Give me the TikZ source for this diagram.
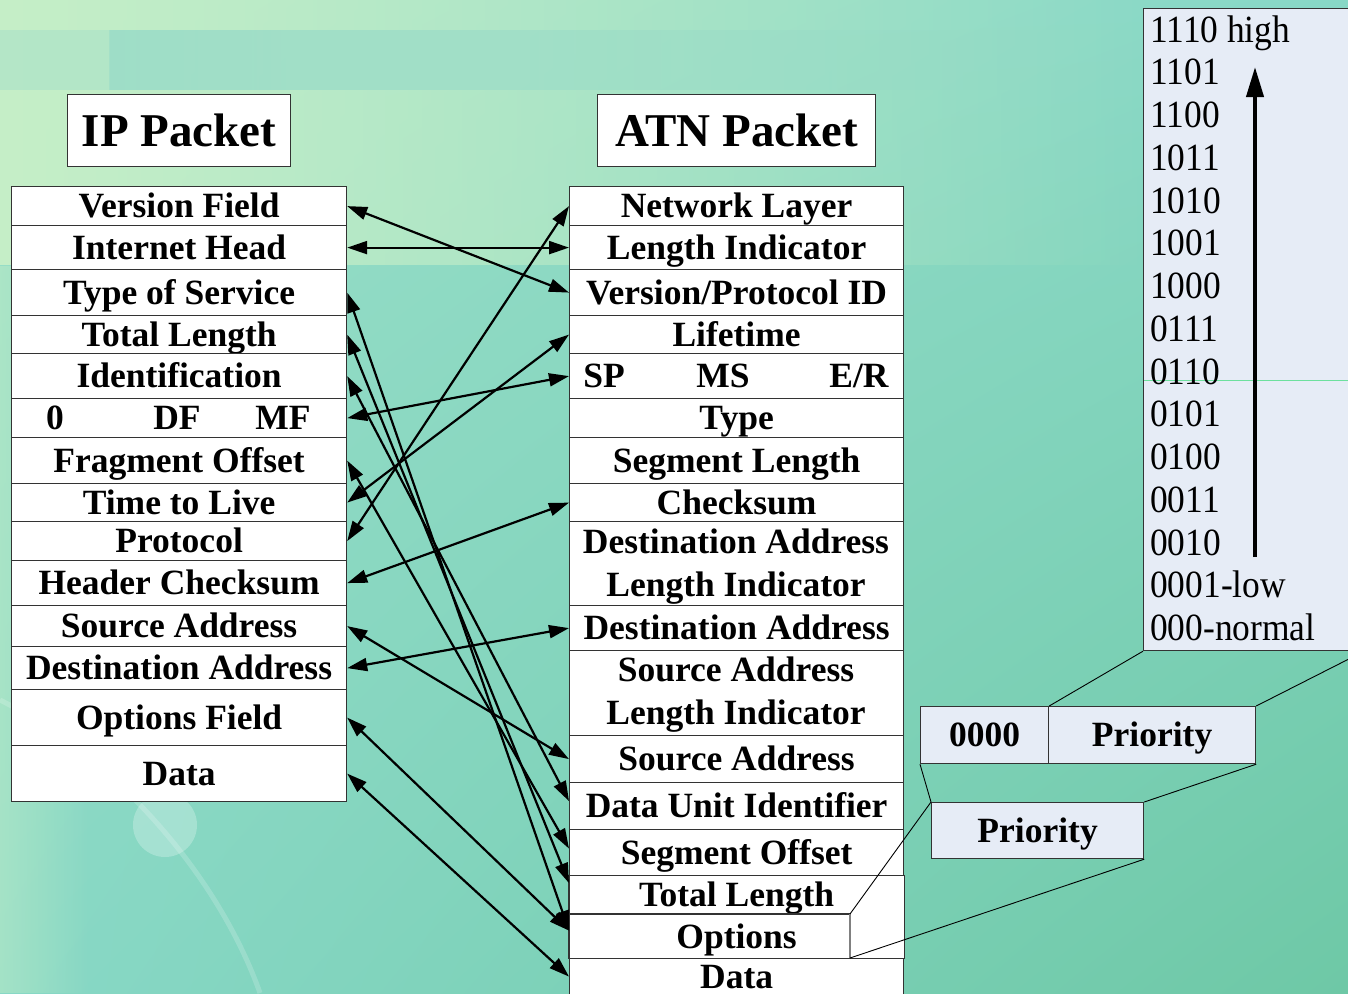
\documentclass[tikz,border=0pt]{standalone}
\usepackage{fontspec}
\setmainfont{Liberation Serif}
\newfontfamily\numfont[FakeStretch=0.92]{Liberation Serif}
\usetikzlibrary{arrows.meta,calc,fadings,shadings}
\definecolor{bgteal}{HTML}{88D8C6}
\definecolor{bgdeep}{HTML}{6EC8A6}
\definecolor{bglight}{HTML}{C6EFC8}
\definecolor{bandteal}{HTML}{96DAC8}
\definecolor{boxblue}{HTML}{E6ECF6}
\definecolor{edge}{HTML}{333333}
\tikzfading[name=faderight, left color=transparent!0, right color=transparent!100]
\tikzfading[name=fadesoft, left color=transparent!0, middle color=transparent!20, right color=transparent!100]
\begin{document}
\begin{tikzpicture}[x=1pt,y=-1pt,
  cell/.style={draw=edge, line width=1.2pt, fill=white, inner sep=0pt, anchor=north west,
    text height=23pt, text depth=0pt, font=\bfseries\fontsize{35.5}{38}\selectfont},
  plaincell/.style={cell, draw=none},
  titlebox/.style={draw=edge, line width=1.2pt, fill=white, inner sep=0pt, anchor=north west,
    text height=31pt, text depth=0pt, font=\bfseries\fontsize{47}{50}\selectfont},
  pbox/.style={cell, fill=boxblue},
  lbl/.style={inner sep=0pt, text height=23pt, text depth=0pt, font=\bfseries\fontsize{35.5}{38}\selectfont},
  cellline/.style={draw=edge, line width=1.2pt},
  conn/.style={{Triangle[length=20pt,width=13pt]}-{Triangle[length=20pt,width=13pt]}, line width=2.2pt},
  zoomline/.style={line width=0.9pt, draw=black},
  num/.style={anchor=base west, inner sep=0pt, font=\numfont\fontsize{38.5}{40}\selectfont}
]
\useasboundingbox (0,0) rectangle (1348,993);
\clip (0,0) rectangle (1348,993);
% ---------- background ----------
\shade[upper left=bgteal!70!bglight, upper right=bgteal, lower left=bgteal, lower right=bgdeep] (0,0) rectangle (1348,993);
\fill[bglight, path fading=fadesoft] (0,0) rectangle (1150,265);
\fill[bandteal, path fading=faderight, opacity=0.8] (110,30) rectangle (1348,90);
\fill[bandteal!60!bglight, opacity=0.6] (0,30) rectangle (110,90);
\fill[bglight, opacity=0.45, path fading=faderight] (0,265) rectangle (90,993);
\fill[white, opacity=0.25] (165,825) circle (32);
\draw[white, opacity=0.18, line width=5pt] (0,700) .. controls (120,760) and (220,880) .. (260,993);
% ---------- titles ----------
\node[titlebox, minimum width=223pt, minimum height=72pt] (iptitle) at (67,94) {IP Packet};
\node[titlebox, minimum width=278pt, minimum height=72pt] (atntitle) at (597,94) {ATN Packet};
% ---------- IP packet table ----------
\node[cell, minimum width=335pt, minimum height=39pt] (ip1) at (11,186) {Version Field};
\node[cell, minimum width=335pt, minimum height=44pt] (ip2) at (11,225) {Internet Head};
\node[cell, minimum width=335pt, minimum height=46pt] (ip3) at (11,269) {Type of Service};
\node[cell, minimum width=335pt, minimum height=38pt] (ip4) at (11,315) {Total Length};
\node[cell, minimum width=335pt, minimum height=45pt] (ip5) at (11,353) {Identification};
\node[cell, minimum width=335pt, minimum height=39pt] (ip6) at (11,398) {};
\node[lbl] (ip6a) at (55,417.5) {0};
\node[lbl] (ip6b) at (177,417.5) {DF};
\node[lbl] (ip6c) at (283,417.5) {MF};
\node[cell, minimum width=335pt, minimum height=46pt] (ip7) at (11,437) {Fragment Offset};
\node[cell, minimum width=335pt, minimum height=38pt] (ip8) at (11,483) {Time to Live};
\node[cell, minimum width=335pt, minimum height=39pt] (ip9) at (11,521) {Protocol};
\node[cell, minimum width=335pt, minimum height=45pt] (ip10) at (11,560) {Header Checksum};
\node[cell, minimum width=335pt, minimum height=41pt] (ip11) at (11,605) {Source Address};
\node[cell, minimum width=335pt, minimum height=43pt] (ip12) at (11,646) {Destination Address};
\node[cell, minimum width=335pt, minimum height=56pt] (ip13) at (11,689) {Options Field};
\node[cell, minimum width=335pt, minimum height=56pt] (ip14) at (11,745) {Data};
% ---------- ATN packet table ----------
\node[cell, minimum width=334pt, minimum height=39pt] (at1) at (569,186) {Network Layer};
\node[cell, minimum width=334pt, minimum height=44pt] (at2) at (569,225) {Length Indicator};
\node[cell, minimum width=334pt, minimum height=46pt] (at3) at (569,269) {Version/Protocol ID};
\node[cell, minimum width=334pt, minimum height=38pt] (at4) at (569,315) {Lifetime};
\node[cell, minimum width=334pt, minimum height=45pt] (at5) at (569,353) {};
\node[lbl] (at5a) at (604,375.5) {SP};
\node[lbl] (at5b) at (723,375.5) {MS};
\node[lbl] (at5c) at (859,375.5) {E/R};
\node[cell, minimum width=334pt, minimum height=39pt] (at6) at (569,398) {Type};
\node[cell, minimum width=334pt, minimum height=46pt] (at7) at (569,437) {Segment Length};
\node[cell, minimum width=334pt, minimum height=38pt] (at8) at (569,483) {Checksum};
\node[cell, minimum width=334pt, minimum height=84pt] (at9) at (569,521) {};
\node[lbl] (at9a) at (736,542) {Destination Address};
\node[lbl] (at9b) at (736,585) {Length Indicator};
\node[cell, minimum width=334pt, minimum height=45pt] (at10) at (569,605) {Destination Address};
\node[cell, minimum width=334pt, minimum height=85pt] (at11) at (569,650) {};
\node[lbl] (at11a) at (736,670) {Source Address};
\node[lbl] (at11b) at (736,713) {Length Indicator};
\node[cell, minimum width=334pt, minimum height=47pt] (at12) at (569,735) {Source Address};
\node[cell, minimum width=334pt, minimum height=47pt] (at13) at (569,782) {Data Unit Identifier};
\node[cell, minimum width=334pt, minimum height=46pt] (at14) at (569,829) {Segment Offset};
\node[plaincell, minimum width=334pt, minimum height=39pt] (at15) at (569,875) {Total Length};
\node[plaincell, minimum width=334pt, minimum height=44pt] (at16) at (569,914) {Options};
\node[cell, minimum width=334pt, minimum height=36pt] (at17) at (569,958) {Data};
\coordinate (optc) at (850,914);
\coordinate (optd) at (850,958);
\draw[cellline] (at15.north west) -- (at16.south west);
\draw[cellline] (at15.north east) -- (at16.south east);
\draw[cellline] (at16.north west) -- (optc);
\draw[draw=gray, line width=1.2pt] (optc) -- (optd);
% ---------- priority call-out ----------
\node[pbox, minimum width=128pt, minimum height=57pt] (b0) at (920,706) {0000};
\node[pbox, minimum width=207pt, minimum height=57pt] (b1) at (1048,706) {Priority};
\node[pbox, minimum width=212pt, minimum height=56pt] (pr) at (931,802) {Priority};
\node[draw=edge, line width=1.2pt, fill=boxblue, anchor=north west, inner sep=0pt,
      minimum width=220pt, minimum height=642pt] (big) at (1143,8) {};
\draw[draw=bgteal!80!green, line width=1pt] (1144,380) -- (1348,380);
\foreach \t [count=\k from 0] in {1110 high,1101,1100,1011,1010,1001,1000,0111,0110,0101,0100,0011,0010,0001-low,000-normal}{
  \node[num] (n\k) at (1150,{42+42.75*\k}) {\t};
}
\coordinate (pa) at (1255,557);
\coordinate (pb) at (1255,67);
\draw[-{Triangle[length=30pt,width=17pt]}, line width=4pt] (pa) -- (pb);
\draw[zoomline] (optc) -- (pr.north west);
\draw[zoomline] (optd) -- (pr.south east);
\draw[zoomline] (pr.north west) -- (b0.south west);
\draw[zoomline] (pr.north east) -- (b1.south east);
\draw[zoomline] (b0.north east) -- (big.south west);
\draw[zoomline] (b1.north east) -- (big.south east);
% ---------- connectors ----------
\draw[conn] (ip1.east) -- (at3.west);
\draw[conn] (ip2.east) -- (at2.west);
\draw[conn] (ip3.east) -- ($(at16.west)+(0,-6)$);
\draw[conn] (ip4.east) -- ($(at15.west)+(0,-12)$);
\draw[conn] (ip5.east) -- ($(at13.west)+(0,-5)$);
\draw[conn] (ip6.east) -- (at5.west);
\draw[conn] (ip7.east) -- ($(at14.west)+(0,-4)$);
\draw[conn] (ip8.east) -- (at4.west);
\draw[conn] (ip9.east) -- (at1.west);
\draw[conn] (ip10.east) -- (at8.west);
\draw[conn] (ip11.east) -- (at12.west);
\draw[conn] (ip12.east) -- (at10.west);
\draw[conn] (ip13.east) -- ($(at16.west)+(0,-6)$);
\draw[conn] (ip14.east) -- (at17.west);
\end{tikzpicture}
\end{document}
